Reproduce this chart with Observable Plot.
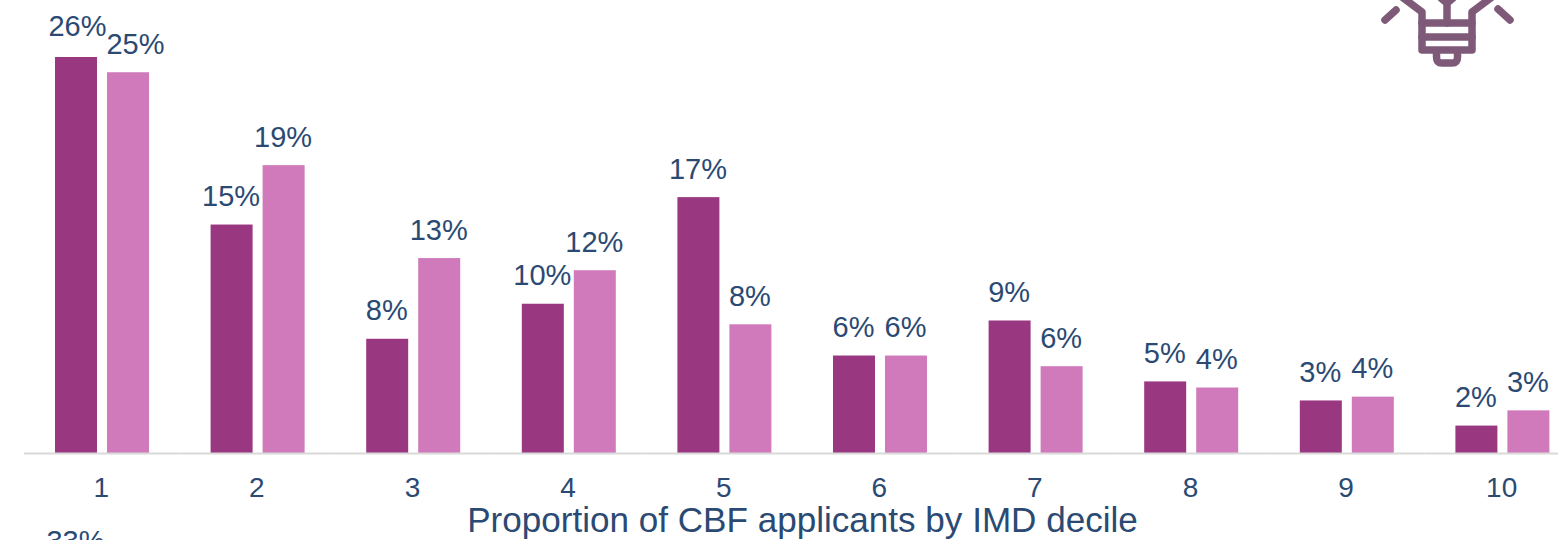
<!DOCTYPE html>
<html><head><meta charset="utf-8">
<style>html,body{margin:0;padding:0;background:#fff;overflow:hidden}svg{display:block}</style>
<script src="https://cdn.jsdelivr.net/npm/d3@7"></script>
<script src="https://cdn.jsdelivr.net/npm/@observablehq/plot@0.6"></script>
</head><body><div id="chart"></div>
<script>
const deciles = [1,2,3,4,5,6,7,8,9,10];
const seriesA = [26.0,15.0,7.5,9.8,16.8,6.4,8.7,4.7,3.45,1.8];
const seriesB = [25.0,18.9,12.8,12.0,8.45,6.4,5.7,4.3,3.7,2.8];
const axisTitle = "Proportion of CBF applicants by IMD decile";
const strayLabel = "33%";

const rows = deciles.flatMap((d,i)=>[
  {decile:d, series:"a", value:seriesA[i]},
  {decile:d, series:"b", value:seriesB[i]}
]);
const ink = "#2b4a73";
const font = "Liberation Sans, Arial, sans-serif";
const labelOpts = {fx:"decile", x:"series", y:"value", text:d=>Math.round(d.value)+"%",
  fill:ink, fontSize:29, lineAnchor:"bottom"};

const chart = Plot.plot({
  width:1558, height:540,
  marginLeft:24, marginRight:-22, marginTop:57, marginBottom:87,
  style:{fontFamily:font, background:"#fff", overflow:"hidden"},
  fx:{domain:deciles, paddingInner:0, paddingOuter:0, round:false, label:null},
  x:{domain:["a","b"], range:[55,149], paddingInner:10/52, paddingOuter:0, round:false, axis:null},
  y:{domain:[0,26], axis:null},
  color:{domain:["a","b"], range:["#993881","#d07abb"]},
  marks:[
    Plot.barY(rows,{fx:"decile", x:"series", y:"value", fill:"series"}),
    Plot.ruleY([0],{stroke:"#d9d9d9", strokeWidth:2}),
    Plot.text(rows.filter(d=>d.decile>1),{...labelOpts, dy:-19, dx:-1}),
    Plot.text(rows.filter(d=>d.decile===1&&d.series==="a"),{...labelOpts, dy:-22, dx:1}),
    Plot.text(rows.filter(d=>d.decile===1&&d.series==="b"),{...labelOpts, dy:-19, dx:7}),
    Plot.axisFx({anchor:"bottom", tickSize:0, tickPadding:24, fontSize:28, color:ink, label:null, fontWeight:400, dx:-1}),
    Plot.axisFx({anchor:"bottom", tickSize:0, tickFormat:()=>"", fontSize:35.1, color:ink,
      label:axisTitle, labelAnchor:"center", labelArrow:"none", labelOffset:78}),
    Plot.text([strayLabel],{fx:()=>1, x:()=>"a", y:()=>0, text:d=>d, fill:ink, fontSize:29, lineAnchor:"bottom", dy:97, dx:-1})
  ]
});
document.getElementById("chart").appendChild(chart);

// decorative light-bulb icon
const icon = d3.select(chart).append("g")
  .attr("fill","none").attr("stroke","#7f5a78").attr("stroke-width",7.5)
  .attr("stroke-linecap","round").attr("stroke-linejoin","round");
["M1385,20L1396,10","M1498,9L1510,20",
 "M1402,-3L1422,12V50H1472V12L1492,-3",
 "M1422,23H1472M1422,37H1472",
 "M1447,23V3M1447,3L1441,-2M1447,3L1453,-2",
 "M1436.5,52V57Q1436.5,63 1442,63H1452Q1457.5,63 1457.5,57V52"
].forEach(p=>icon.append("path").attr("d",p));
</script></body></html>
